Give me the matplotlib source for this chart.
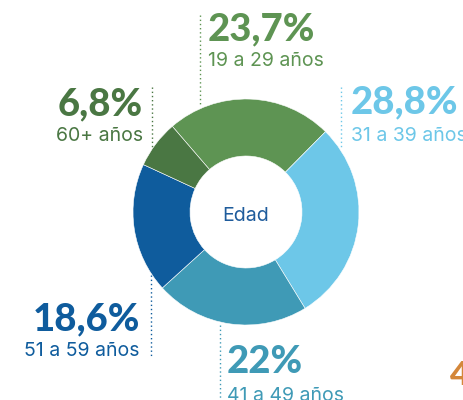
import matplotlib.pyplot as plt

# data
groups = ['19 a 29 años', '31 a 39 años', '41 a 49 años', '51 a 59 años', '60+ años']
shares = [23.7, 28.8, 22.0, 18.6, 6.8]
share_labels = ['23,7%', '28,8%', '22%', '18,6%', '6,8%']
colors = ['#5E9453', '#6DC7E8', '#3F9AB6', '#0F5C9D', '#4A7743']

W, H = 464, 400
fig = plt.figure(figsize=(W / 100, H / 100), dpi=100)
ax = fig.add_axes([0, 0, 1, 1])

cx, cy = 246, H - 212
ax.pie(shares, colors=colors, startangle=130.7, counterclock=False,
       center=(cx, cy), radius=113,
       wedgeprops=dict(width=57, edgecolor='white', linewidth=0.4))
ax.set_xlim(0, W)
ax.set_ylim(0, H)
ax.set_aspect('equal')
ax.axis('off')

ax.text(cx, H - 216, 'Edad', ha='center', va='center', fontsize=14,
        color='#1F5C9C', family='Inter')

# label placement (pixel coords from top): x, baseline of big, baseline of small, align, leader x, leader y0, y1
layout = [
    (208, 40, 66, 'left', 200, 15, 106),
    (351, 113, 141, 'left', 341, 87, 147),
    (227, 373, 401, 'left', 220, 325, 400),
    (140, 330, 356, 'right', 151, 275, 356),
    (143, 115, 141, 'right', 152, 87, 148),
]

for i, (x, yb, ys, al, lx, ly0, ly1) in enumerate(layout):
    c = colors[i]
    ax.text(x, H - yb, share_labels[i], ha=al, va='baseline', fontsize=27.5,
            fontweight='black', color=c, family='Lato')
    ax.text(x, H - ys, groups[i], ha=al, va='baseline', fontsize=14,
            color=c, family='Inter')
    ax.plot([lx, lx], [H - ly0, H - ly1], color=c, lw=1, ls=(0, (1, 2)))

# edge of the neighbouring chart
ax.text(450, H - 385, '4', ha='left', va='baseline', fontsize=24,
        fontweight='black', color='#D4873A', family='Lato')

fig.savefig('out.png', dpi=100)
